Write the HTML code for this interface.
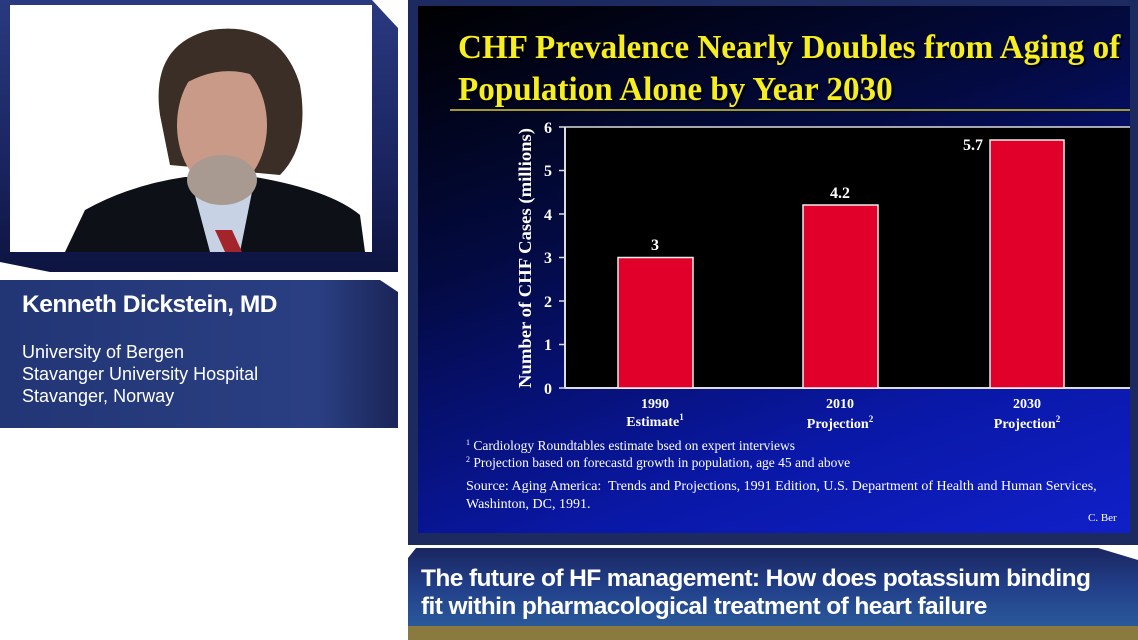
<!DOCTYPE html>
<html><head><meta charset="utf-8"><style>
*{margin:0;padding:0;box-sizing:border-box}
body{width:1138px;height:640px;background:#fff;position:relative;overflow:hidden;font-family:"Liberation Sans",sans-serif}
.abs{position:absolute}
.serif{font-family:"Liberation Serif",serif}
sup{line-height:0;vertical-align:5px}
</style></head><body>
<div class="abs" style="left:0;top:0;width:398px;height:272px;background:linear-gradient(180deg,#2a3a80,#1a2460 60%,#0d1440);clip-path:polygon(0 0,372px 0,398px 28px,398px 272px,50px 272px,0 262px)"></div>
<div class="abs" style="left:10px;top:5px;width:362px;height:247px;background:#fff;overflow:hidden">
 <svg width="362" height="247">
  <path d="M55 247 L75 205 Q120 180 175 172 L245 172 Q320 185 350 210 L355 247Z" fill="#0e1018"/>
  <path d="M180 172 L200 247 L230 247 L245 172Z" fill="#c7d3e4"/>
  <path d="M205 225 L215 247 L232 247 L222 225Z" fill="#a3242a"/>
  <path d="M150 110 Q140 40 200 25 Q270 15 290 80 Q300 140 270 170 L160 160Z" fill="#3a2e26"/>
  <ellipse cx="212" cy="120" rx="45" ry="65" fill="#c99a88"/>
  <ellipse cx="212" cy="175" rx="35" ry="25" fill="#a89a90"/>
  <path d="M165 55 Q215 20 265 60 L265 80 Q215 50 165 85Z" fill="#3a2e26"/>
 </svg>
</div>
<div class="abs" style="left:0;top:280px;width:398px;height:148px;background:linear-gradient(90deg,#223676,#2a3f82 80%,#1a2558);clip-path:polygon(0 0,380px 0,398px 12px,398px 148px,0 148px)"></div>
<div class="abs" style="left:22px;top:291px;color:#fff;font-weight:bold;font-size:24.5px;letter-spacing:-0.5px">Kenneth Dickstein, MD</div>
<div class="abs" style="left:22px;top:341px;color:#fff;font-size:18px;line-height:22px">University of Bergen<br>Stavanger University Hospital<br>Stavanger, Norway</div>
<div class="abs" style="left:408px;top:0;width:730px;height:545px;background:#1c2a60"></div>
<div class="abs" style="left:418px;top:6px;width:712px;height:527px;background:linear-gradient(160deg,#000 0%,#030a40 35%,#0a18a8 75%,#1020c8 100%)"></div>
<div class="abs serif" style="left:458px;top:27px;color:#f6ee1e;font-weight:bold;font-size:34px;line-height:42px;white-space:nowrap;text-shadow:2px 2px 1px #000;transform:scaleX(0.975);transform-origin:0 0">CHF Prevalence Nearly Doubles from Aging of<br>Population Alone by Year 2030</div>
<div class="abs" style="left:450px;top:109px;width:680px;height:2px;background:#a09830"></div>
<svg class="abs" style="left:418px;top:110px" width="720" height="330">
 <rect x="147" y="17" width="565" height="261" fill="#000"/>
 <g stroke="#ddd" stroke-width="2"><line x1="147" y1="17" x2="147" y2="278"/><line x1="147" y1="278" x2="712" y2="278"/><line x1="147" y1="17" x2="712" y2="17" stroke-width="1.5"/>
 <g stroke-width="1.5"><line x1="141" y1="17" x2="147" y2="17"/><line x1="141" y1="60.5" x2="147" y2="60.5"/><line x1="141" y1="104" x2="147" y2="104"/><line x1="141" y1="147.5" x2="147" y2="147.5"/><line x1="141" y1="191" x2="147" y2="191"/><line x1="141" y1="234.5" x2="147" y2="234.5"/><line x1="141" y1="278" x2="147" y2="278"/></g></g>
 <g fill="#e0002a" stroke="#eee" stroke-width="1.5"><rect x="200" y="147.5" width="75" height="130.5"/><rect x="385" y="95" width="75" height="183"/><rect x="572" y="30" width="74" height="248"/></g>
 <g fill="#fff" font-family="Liberation Serif,serif" font-weight="bold" font-size="16">
  <g text-anchor="end"><text x="134" y="23">6</text><text x="134" y="66">5</text><text x="134" y="110">4</text><text x="134" y="153">3</text><text x="134" y="197">2</text><text x="134" y="240">1</text><text x="134" y="284">0</text></g>
  <g text-anchor="middle"><text x="237" y="140">3</text><text x="422" y="88">4.2</text><text x="555" y="40">5.7</text>
  <text x="237" y="298" font-size="14">1990</text><text x="237" y="316" font-size="14">Estimate<tspan font-size="9" dy="-6">1</tspan></text>
  <text x="422" y="298" font-size="14">2010</text><text x="422" y="318" font-size="14">Projection<tspan font-size="9" dy="-6">2</tspan></text>
  <text x="609" y="298" font-size="14">2030</text><text x="609" y="318" font-size="14">Projection<tspan font-size="9" dy="-6">2</tspan></text></g>
  <text transform="translate(113,148) rotate(-90)" text-anchor="middle" font-weight="bold" font-size="18" textLength="260" lengthAdjust="spacingAndGlyphs">Number of CHF Cases (millions)</text>
 </g>
</svg>
<div class="abs serif" style="left:466px;top:437px;color:#fff;font-size:13.5px;line-height:17px;white-space:nowrap"><sup style="font-size:8px">1</sup> Cardiology Roundtables estimate bsed on expert interviews<br><sup style="font-size:8px">2</sup> Projection based on forecastd growth in population, age 45 and above</div>
<div class="abs serif" style="left:466px;top:478px;color:#fff;font-size:14px;line-height:18px;white-space:nowrap">Source: Aging America:&nbsp; Trends and Projections, 1991 Edition, U.S. Department of Health and Human Services,<br>Washinton, DC, 1991.</div>
<div class="abs serif" style="left:1088px;top:512px;color:#fff;font-size:11px">C. Ber</div>
<div class="abs" style="left:408px;top:548px;width:730px;height:80px;background:linear-gradient(180deg,#1a2660,#22408a 50%,#2a5a9a);clip-path:polygon(8px 0,690px 0,730px 12px,730px 80px,0 80px,0 10px)"></div>
<div class="abs" style="left:408px;top:626px;width:730px;height:14px;background:#8a7a40"></div>
<div class="abs" style="left:421px;top:565px;color:#fff;font-weight:bold;font-size:24.5px;line-height:28px;letter-spacing:-0.6px;white-space:nowrap">The future of HF management: How does potassium binding<br>fit within pharmacological treatment of heart failure</div>
</body></html>
